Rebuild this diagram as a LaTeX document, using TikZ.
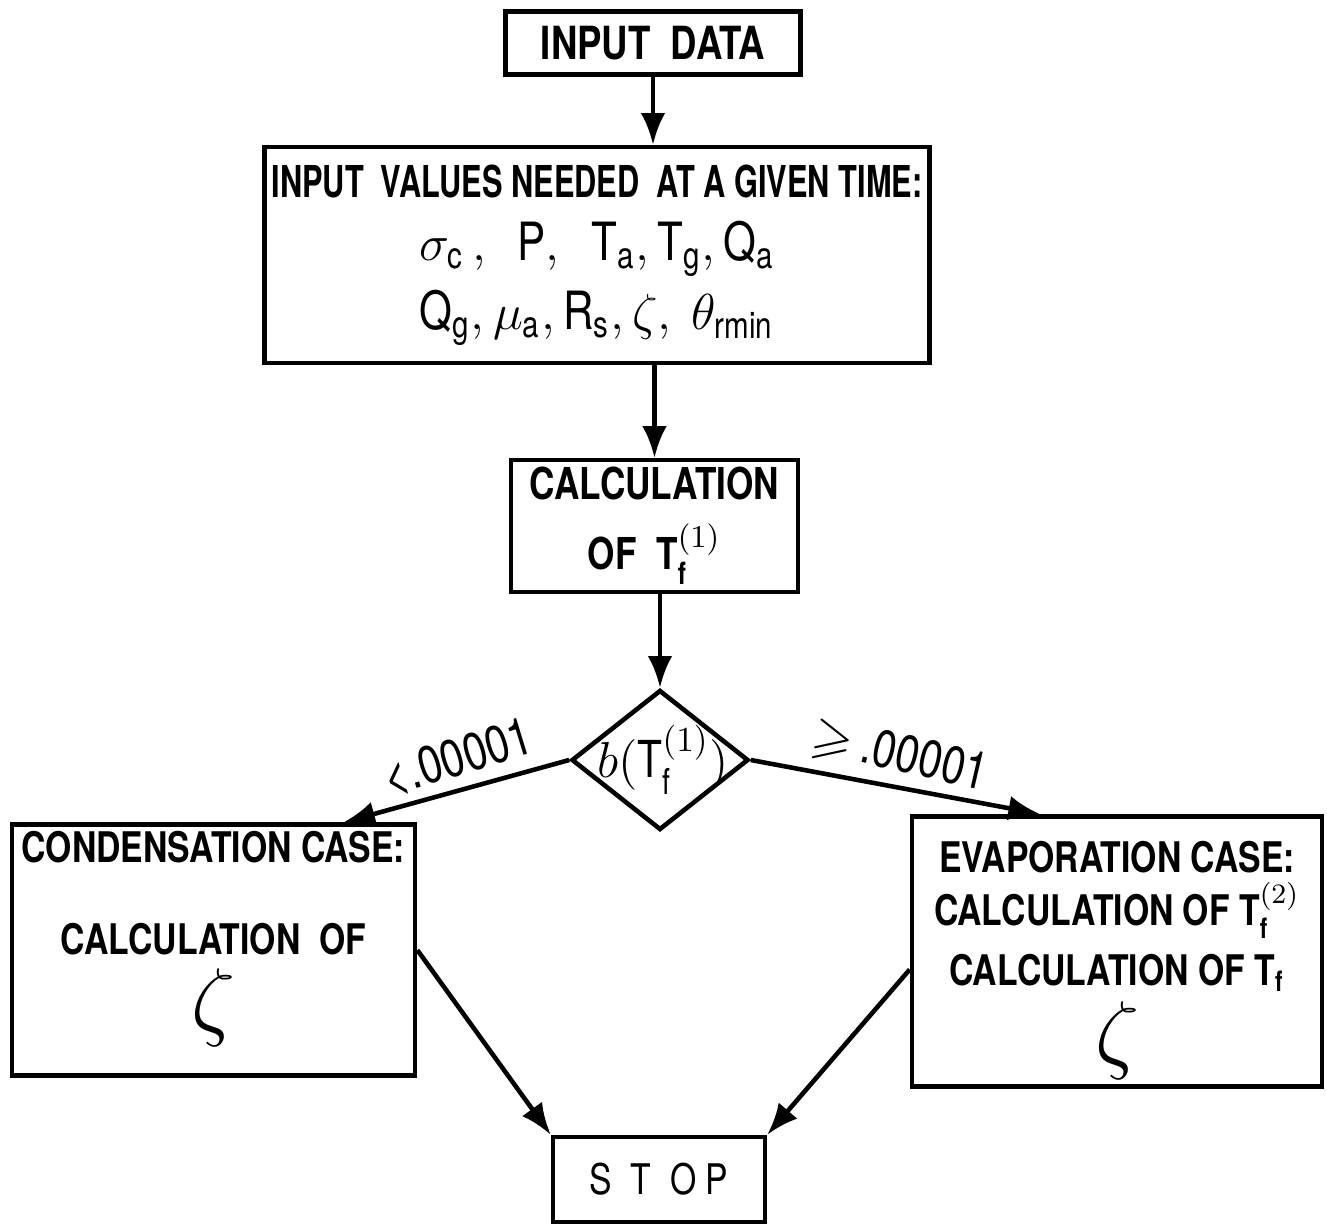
\documentclass[tikz,border=0pt]{standalone}
\usepackage{amsmath}
\usepackage{fontspec}
\usepackage{amssymb}
\setmainfont{TeX Gyre Heros}[FakeStretch=0.8]
\newfontfamily\condfont{TeX Gyre Heros}[FakeStretch=0.7]
\usetikzlibrary{arrows.meta,shapes.geometric}

\begin{document}
\begin{tikzpicture} [box/.style={draw, line width=1.3pt, align=center, inner sep=2pt, font=\fontsize{12}{15}\selectfont\bfseries},
    arr/.style={line width=1.3pt, -{Latex[length=9pt,width=7pt]}},
    lbl/.style={font=\fontsize{15}{18}\selectfont, inner sep=0pt}]
    \useasboundingbox (0, 0) rectangle (13.27, -12.24);
    \node[box, font=\fontsize{13}{15}\selectfont\bfseries, minimum width=2.95cm, minimum height=0.63cm] (v1) at (6.53, -0.43) {INPUT\ \ DATA};
    \node[box, minimum width=6.28cm, minimum height=2.16cm] (v2) at (5.97, -2.55) {{\condfont\fontsize{12.5}{15}\selectfont INPUT\ \ VALUES NEEDED\ \ AT A GIVEN TIME:}\\[3pt]
        {\fontsize{15}{20}\selectfont\mdseries $\sigma_{\text{c}}\,,\ \ \text{P},\ \ \text{T}_{\text{a}},\text{T}_{\text{g}},\text{Q}_{\text{a}}$}\\[3pt]
        {\fontsize{15}{20}\selectfont\mdseries $\text{Q}_{\text{g}},\mu_{\text{a}},\text{R}_{\text{s}},\zeta,\ \theta_{\text{rmin}}$}};
    \node[box, font=\fontsize{12.5}{18}\selectfont\bfseries, minimum width=2.87cm, minimum height=1.28cm] (v3) at (6.545, -5.26) {CALCULATION\\[2pt] OF\ \ $\text{T}_{\text{f}}^{(1)}$};
    \node[draw, diamond, line width=1.3pt, minimum width=1.77cm, minimum height=1.4cm, inner sep=0pt] (v4) at (6.60, -7.60) {};
    \node[lbl, font=\fontsize{14.5}{15}\selectfont] (v4t) at ([xshift=0.03cm]v4) {$b(\text{T}_{\text{f}}^{(1)})$};
    \node[box, minimum width=4.03cm, minimum height=2.44cm] (v5) at (2.135, -9.50) {CONDENSATION CASE:\\[11pt] CALCULATION\ \ OF\\[3pt] {\fontsize{26}{22}\selectfont$\zeta$}\\[-4pt]\mbox{}};
    \node[box, minimum width=4.10cm, minimum height=2.47cm] (v6) at (11.17, -9.515) {\mbox{}\\[-1pt] EVAPORATION CASE:\\ CALCULATION OF $\text{T}_{\text{f}}^{(2)}$\\[2pt] CALCULATION OF $\text{T}_{\text{f}}$\\[2pt] {\fontsize{26}{22}\selectfont$\zeta$}};
    \node[box, minimum width=2.12cm, minimum height=0.85cm] (v7) at (6.59, -11.795) {\mdseries S\ \ T\ \ O P};
    \node[lbl, rotate=17] (l1) at (4.58, -7.58) {<.00001};
    \node[lbl, rotate=-13] (l2) at (9.00, -7.56) {$\geqslant$\,.00001};
    \draw[arr] (v1.south) -- (v1.south |- v2.north);
    \draw[arr] (v3.north |- v2.south) -- (v3.north);
    \draw[arr] (v4.north |- v3.south) -- (v4.north);
    \draw[arr] (v4.west) -- ([xshift=1.3cm]v5.north);
    \draw[arr] (v4.east) -- ([xshift=-0.77cm]v6.north);
    \draw[arr] (v5.east) -- (v7.north west);
    \draw[arr] ([yshift=-0.18cm]v6.west) -- (v7.north east);
\end{tikzpicture}
\end{document}
